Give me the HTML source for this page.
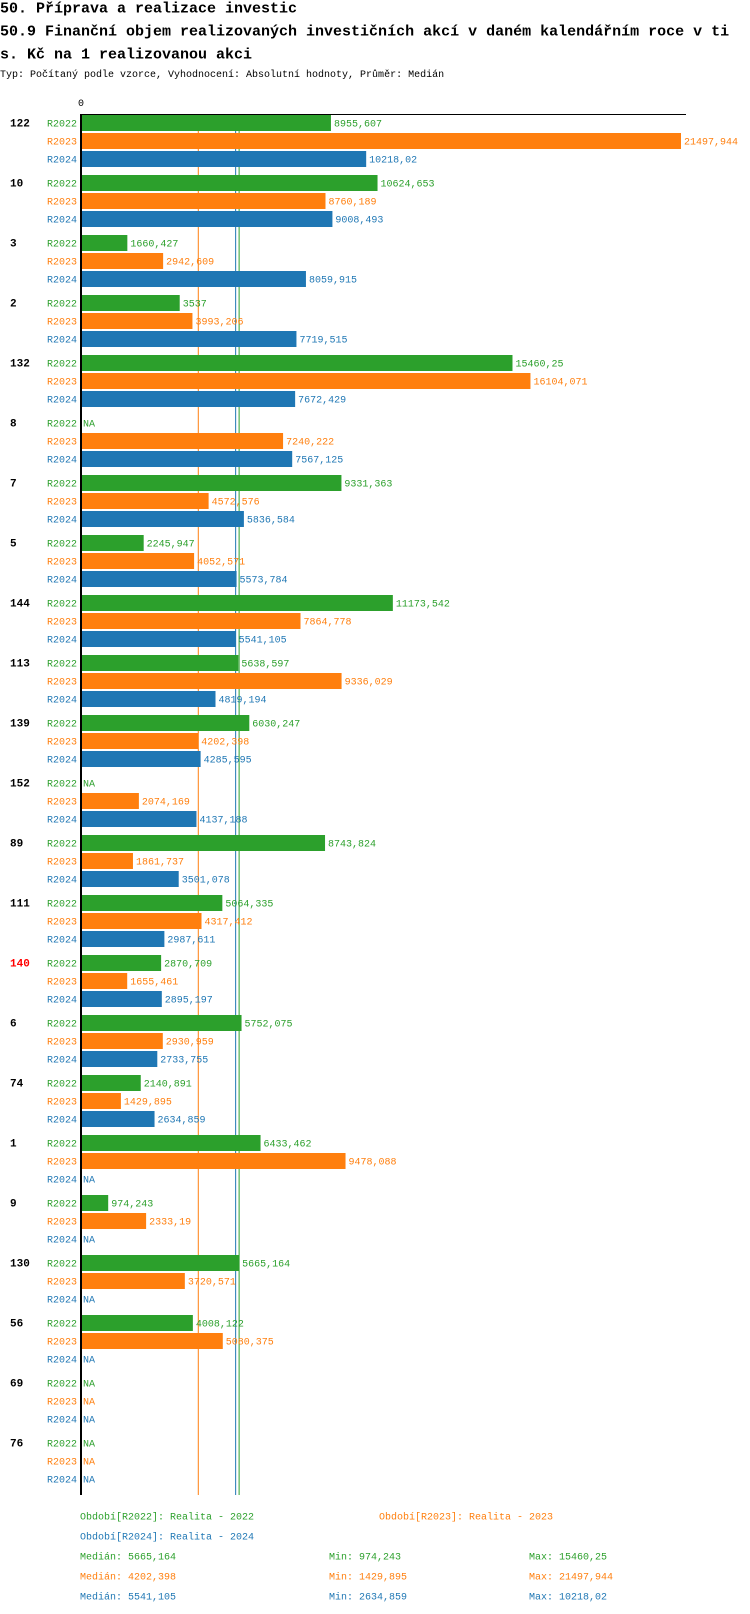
<!DOCTYPE html>
<html><head><meta charset="utf-8"><style>
body{margin:0;background:#fff;}
svg{display:block;}
</style></head><body>
<svg id="c" width="750" height="1614" xmlns="http://www.w3.org/2000/svg" font-family="'Liberation Mono', monospace">
<text x="0" y="12.5" font-size="15" font-weight="bold" fill="#000">50. Příprava a realizace investic</text>
<text x="0" y="35.5" font-size="15" font-weight="bold" fill="#000">50.9 Finanční objem realizovaných investičních akcí v daném kalendářním roce v ti</text>
<text x="0" y="58.5" font-size="15" font-weight="bold" fill="#000">s. Kč na 1 realizovanou akci</text>
<text x="0" y="77" font-size="10" fill="#000">Typ: Počítaný podle vzorce, Vyhodnocení: Absolutní hodnoty, Průměr: Medián</text>
<g id="plot"></g>
</svg>
<script>
const categories=["122","10","3","2","132","8","7","5","144","113","139","152","89","111","140","6","74","1","9","130","56","69","76"];
const r2022=[8955.607,10624.653,1660.427,3537,15460.25,null,9331.363,2245.947,11173.542,5638.597,6030.247,null,8743.824,5064.335,2870.709,5752.075,2140.891,6433.462,974.243,5665.164,4008.122,null,null];
const r2023=[21497.944,8760.189,2942.609,3993.206,16104.071,7240.222,4572.576,4052.571,7864.778,9336.029,4202.398,2074.169,1861.737,4317.412,1655.461,2930.959,1429.895,9478.088,2333.19,3720.571,5080.375,null,null];
const r2024=[10218.02,9008.493,8059.915,7719.515,7672.429,7567.125,5836.584,5573.784,5541.105,4819.194,4285.595,4137.188,3501.078,2987.611,2895.197,2733.755,2634.859,null,null,null,null,null,null];
const seriesNames=["R2022","R2023","R2024"];
const medians=[5665.164,4202.398,5541.105];
const mins=[974.243,1429.895,2634.859];
const maxs=[15460.25,21497.944,10218.02];
const highlighted=["140"];

const colors=["#2ca02c","#ff7f0e","#1f77b4"];
const series=[r2022,r2023,r2024];
const NS="http://www.w3.org/2000/svg";
const g=document.getElementById('plot');
const X0=81,XMAX=21497.944,XW=600;
const x=v=>X0+v/XMAX*XW;
const TOP=115,GP=60,BP=18,BH=16;
const y=(gi,si)=>TOP+gi*GP+si*BP;
function el(t,a,txt){const e=document.createElementNS(NS,t);for(const k in a)e.setAttribute(k,a[k]);if(txt!==undefined)e.textContent=txt;g.appendChild(e);return e;}
const fmt=v=>String(v).replace('.',',');
const bottom=TOP+categories.length*GP;
medians.forEach((m,i)=>{
  const l=el('line',{x1:x(m),x2:x(m),y1:TOP-1,y2:bottom,stroke:colors[i],'stroke-width':1});
  
  
});
categories.forEach((c,gi)=>{
  const t=el('text',{x:10,y:y(gi,0)+11.5,'font-size':11,'font-weight':'bold',fill:highlighted.includes(c)?'#ff0000':'#000'},c);
  
  
  series.forEach((s,si)=>{
    const yy=y(gi,si);
    const lb=el('text',{x:77,y:yy+11.5,'font-size':10,fill:colors[si],'text-anchor':'end'},seriesNames[si]);
    
    
    const v=s[gi];
    if(v==null){
      const na=el('text',{x:83,y:yy+11.5,'font-size':10,fill:colors[si]},'NA');
      
      
    }else{
      const r=el('rect',{x:X0,y:yy,width:x(v)-X0,height:BH,fill:colors[si]});
      
      
      const vt=el('text',{x:x(v)+3,y:yy+11.5,'font-size':10,fill:colors[si]},fmt(v));
      
      
    }
  });
});
const ax=el('line',{x1:81,x2:81,y1:TOP-1,y2:bottom,stroke:'#000','stroke-width':2});


const ax2=el('line',{x1:80,x2:686,y1:114.5,y2:114.5,stroke:'#000','stroke-width':1});


const z=el('text',{x:81,y:106,'font-size':10,fill:'#000','text-anchor':'middle'},'0');


const lg=[[80,1519.5,0,'Období[R2022]: Realita - 2022'],[379,1519.5,1,'Období[R2023]: Realita - 2023'],[80,1539.5,2,'Období[R2024]: Realita - 2024']];
lg.forEach(d=>{
  const t=el('text',{x:d[0],y:d[1],'font-size':10,fill:colors[d[2]]},d[3]);
  
  
});
[0,1,2].forEach(i=>{
  const yy=1559.5+i*20;
  const a=el('text',{x:80,y:yy,'font-size':10,fill:colors[i]},'Medián: '+fmt(medians[i]));
  
  
  const b=el('text',{x:329,y:yy,'font-size':10,fill:colors[i]},'Min: '+fmt(mins[i]));
  
  
  const d=el('text',{x:529,y:yy,'font-size':10,fill:colors[i]},'Max: '+fmt(maxs[i]));
  
  
});
</script>
</body></html>
